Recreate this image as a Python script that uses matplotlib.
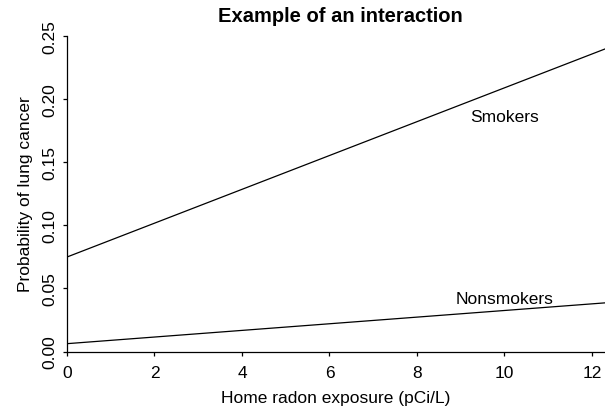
import matplotlib
matplotlib.use('Agg')
import matplotlib.pyplot as plt

# radon exposure endpoints and fitted probabilities
radon = [0, 12.3]
smokers = [0.0748, 0.2395]
nonsmokers = [0.0062, 0.0385]

group_labels = ['Smokers', 'Nonsmokers']
label_pos = [(10.0, 0.186), (10.0, 0.042)]

xticks = [0, 2, 4, 6, 8, 10, 12]
yticks = [0.00, 0.05, 0.10, 0.15, 0.20, 0.25]

plt.rcParams['font.family'] = ['Liberation Sans', 'DejaVu Sans']

fig = plt.figure(figsize=(6.05, 4.1), dpi=100)
ax = fig.add_axes([67 / 605, 1 - 352.5 / 410, 1 - 67 / 605, (352.5 - 36.7) / 410])

ax.plot(radon, smokers, color='black', linewidth=0.9)
ax.plot(radon, nonsmokers, color='black', linewidth=0.9)
for txt, (x, y) in zip(group_labels, label_pos):
    ax.text(x, y, txt, ha='center', va='center', fontsize=12.5)

ax.set_xlim(0, 12.3)
ax.set_ylim(0, 0.25)
ax.set_xticks(xticks)
ax.set_yticks(yticks)
ax.set_yticklabels([f'{v:.2f}' for v in yticks], rotation=90, va='center')
ax.tick_params(direction='out', length=3, width=0.9, labelsize=12.5)
ax.tick_params(axis='x', pad=7)
ax.tick_params(axis='y', pad=4)

for side in ['top', 'right']:
    ax.spines[side].set_visible(False)
for side in ['left', 'bottom']:
    ax.spines[side].set_linewidth(0.9)

ax.set_xlabel('Home radon exposure (pCi/L)', fontsize=12.5, labelpad=7)
ax.set_ylabel('Probability of lung cancer', fontsize=12.5, labelpad=7)
fig.text(340 / 605, 1 - 16 / 410, 'Example of an interaction',
         ha='center', va='center', fontsize=14.5, fontweight='bold')

fig.savefig('out.png', dpi=100)
